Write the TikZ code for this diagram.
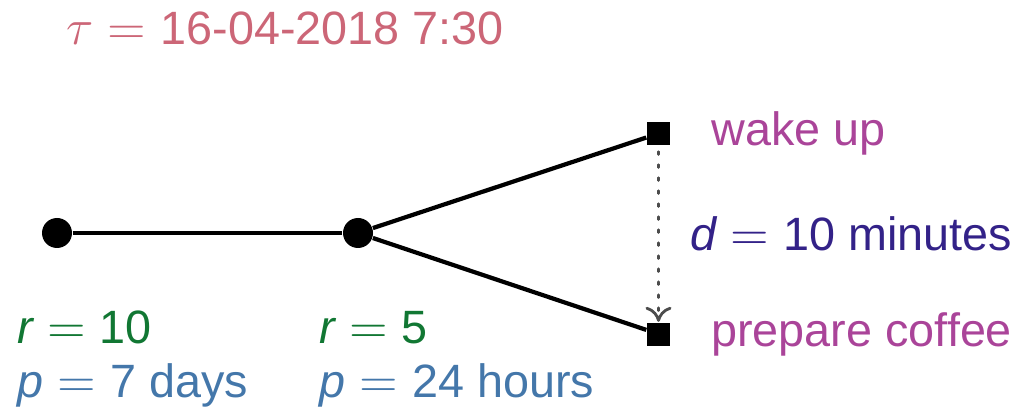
\documentclass[tikz,border=0pt]{standalone}
\usepackage{fontspec}
\setmainfont{Liberation Sans}
\usetikzlibrary{arrows.meta,positioning}
\definecolor{tolrose}{HTML}{CC6677}
\definecolor{tolgreen}{HTML}{117733}
\definecolor{tolblue}{HTML}{4477AA}
\definecolor{tolindigo}{HTML}{332288}
\definecolor{tolpurple}{HTML}{AA4499}

\begin{document}
\begin{tikzpicture}[
            font=\fontsize{13.3}{16}\selectfont,
            node distance=4mm,
            event/.style={circle, fill, inner sep=0pt, minimum size=3mm},
            act/.style={rectangle, fill, inner sep=0pt, minimum size=2.3mm},
            edge/.style={line width=1.2pt},
            delay/.style={dash pattern=on 0.8pt off 2.9pt, line cap=round, line width=0.8pt, gray!60!black, -{To[length=1.5mm, width=2.6mm]}, shorten <=0.6mm},
            txt/.style={inner sep=0pt, anchor=base west}
        ]
            \useasboundingbox (0,0) rectangle (10.25,4.07);

            \node[txt, text=tolrose] (tau) at (0.66,3.62) {$\tau = {}$16-04-2018 7:30};

            \node[event] (root) at (0.57,1.74) {};
            \node[event] (mid) at (3.58,1.74) {};
            \node[act] (wake) at (6.585,2.735) {};
            \node[act] (coffee) at (6.585,0.73) {};

            \draw[edge] (root) -- (mid);
            \draw[edge] (mid) -- (wake);
            \draw[edge] (mid) -- (coffee);
            \draw[delay] (wake.south) -- node[right=3.1mm, inner sep=0pt, text=tolindigo] {$\mathit{d} = {}$10 minutes} (coffee.north);

            \node[right=of wake, inner sep=0pt, text=tolpurple] (wakelbl) {wake up};
            \node[right=of coffee, inner sep=0pt, text=tolpurple] (coffeelbl) {prepare coffee};

            \node[txt, text=tolgreen] (rroot) at (0.17,0.63) {$\mathit{r} = {}$10};
            \node[txt, text=tolblue] (proot) at (0.17,0.10) {$\mathit{p} = {}$7 days};
            \node[txt, text=tolgreen] (rmid) at (3.19,0.63) {$\mathit{r} = {}$5};
            \node[txt, text=tolblue] (pmid) at (3.19,0.10) {$\mathit{p} = {}$24 hours};
        \end{tikzpicture}
\end{document}
